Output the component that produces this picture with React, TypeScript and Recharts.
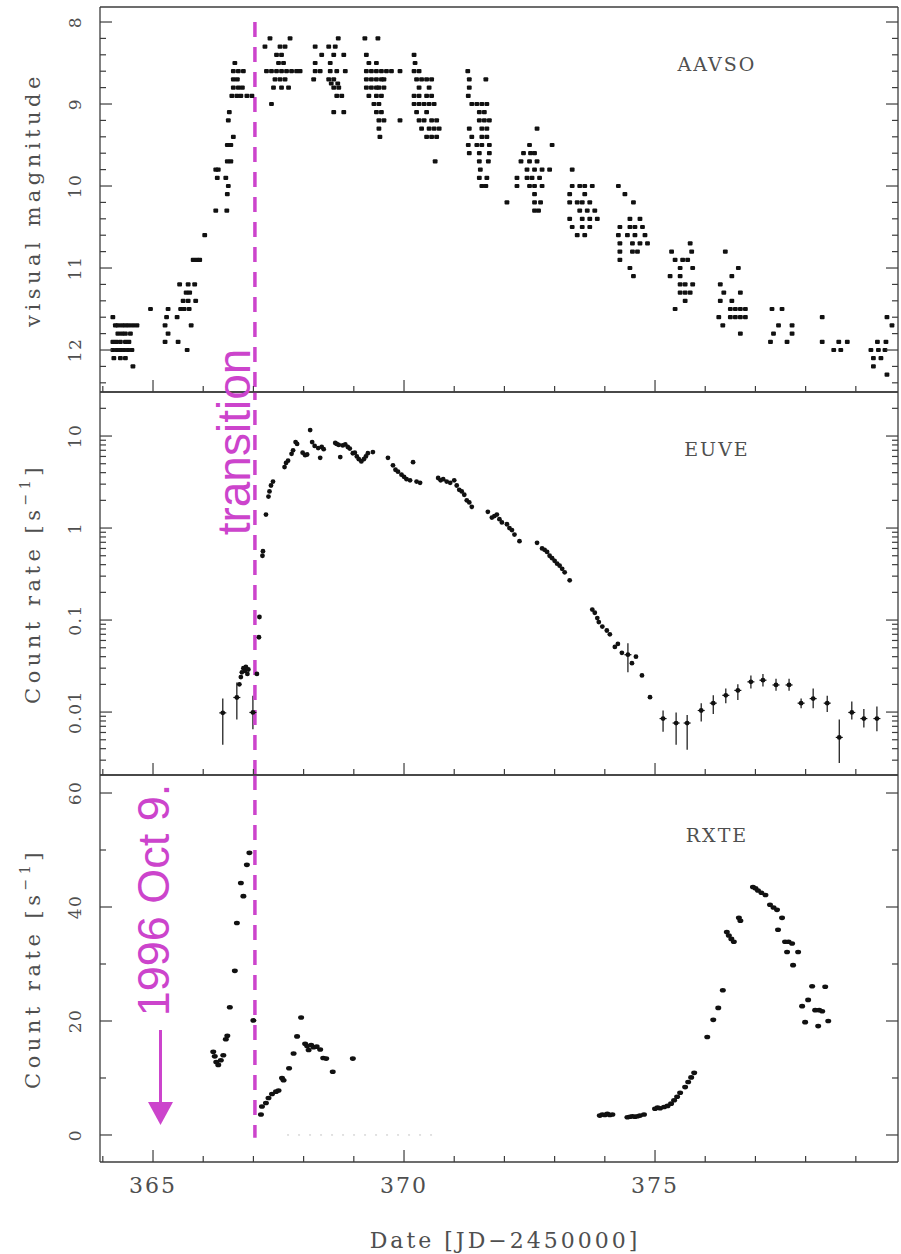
import React from 'react';
import { ScatterChart, Scatter, XAxis, YAxis, ReferenceLine, ErrorBar, Label } from 'recharts';

// AAVSO visual estimates: [JD-2450000, visual magnitude]
const aavso: [number, number][] = [
  [364.2, 11.6], [364.25, 11.7], [364.3, 11.7], [364.38, 11.7], [364.45, 11.7], [364.52, 11.7], [364.6, 11.7], [364.68, 11.7],
  [364.3, 11.8], [364.38, 11.8], [364.45, 11.8], [364.55, 11.8],
  [364.2, 11.9], [364.27, 11.9], [364.35, 11.9], [364.45, 11.9], [364.52, 11.9],
  [364.2, 12.0], [364.28, 12.0], [364.35, 12.0], [364.42, 12.0], [364.5, 12.0], [364.58, 12.0],
  [364.22, 12.1], [364.35, 12.1], [364.45, 12.1], [364.6, 12.2],
  [364.95, 11.5],
  [365.24, 11.7], [365.27, 11.6], [365.3, 11.5], [365.3, 11.8], [365.24, 11.9], [365.48, 11.6], [365.5, 11.9],
  [365.55, 11.5], [365.68, 12.0], [365.76, 11.7], [365.53, 11.2], [365.7, 11.2], [365.83, 11.2], [365.66, 11.3],
  [365.73, 11.3], [365.6, 11.4], [365.7, 11.4], [365.85, 11.4], [365.62, 11.5], [365.72, 11.5],
  [365.8, 10.9], [365.87, 10.9], [365.93, 10.9], [366.03, 10.6],
  [366.25, 10.3], [366.47, 10.3], [366.25, 9.8], [366.3, 9.8], [366.28, 9.9], [366.45, 9.9], [366.5, 10.0],
  [366.48, 10.1], [366.55, 9.7], [366.48, 9.7], [366.48, 9.5], [366.55, 9.5], [366.6, 9.4], [366.5, 9.2], [366.52, 9.1],
  [366.63, 8.5], [366.6, 8.6], [366.7, 8.6], [366.8, 8.6], [366.6, 8.7], [366.68, 8.7], [366.6, 8.8], [366.7, 8.8],
  [366.78, 8.8], [366.57, 8.9], [366.67, 8.9], [366.75, 8.9], [366.87, 8.9], [366.97, 8.9],
  [367.33, 8.2], [367.73, 8.2], [367.23, 8.3], [367.53, 8.3], [367.63, 8.3], [367.46, 8.4], [367.56, 8.4], [367.5, 8.5], [367.6, 8.5],
  [367.26, 8.6], [367.36, 8.6], [367.46, 8.6], [367.56, 8.6], [367.66, 8.6], [367.76, 8.6], [367.86, 8.6], [367.93, 8.6],
  [367.43, 8.7], [367.53, 8.7], [367.63, 8.7], [367.4, 8.8], [367.56, 8.8], [367.7, 8.8], [367.36, 9.0],
  [368.69, 8.2], [368.23, 8.3], [368.5, 8.3], [368.63, 8.3], [368.36, 8.4], [368.6, 8.4], [368.8, 8.4], [368.23, 8.5], [368.53, 8.5],
  [368.23, 8.6], [368.33, 8.6], [368.53, 8.6], [368.66, 8.6], [368.83, 8.6], [368.2, 8.7], [368.5, 8.7], [368.6, 8.7],
  [368.55, 8.75], [368.68, 8.75], [368.6, 8.8], [368.7, 8.8], [368.66, 8.9], [368.76, 8.9], [368.6, 9.1], [368.8, 9.1],
  [369.22, 8.2], [369.48, 8.2], [369.25, 8.4], [369.3, 8.5], [369.45, 8.5],
  [369.25, 8.6], [369.35, 8.6], [369.45, 8.6], [369.55, 8.6], [369.65, 8.6], [369.75, 8.6], [369.92, 8.6],
  [369.25, 8.7], [369.35, 8.7], [369.45, 8.7], [369.55, 8.7], [369.6, 8.7],
  [369.25, 8.8], [369.35, 8.8], [369.45, 8.8], [369.5, 8.8], [369.6, 8.8],
  [369.3, 8.9], [369.45, 8.9], [369.55, 8.9], [369.4, 9.0], [369.5, 9.0], [369.45, 9.1], [369.55, 9.1],
  [369.5, 9.2], [369.6, 9.2], [369.92, 9.2], [369.5, 9.3], [369.52, 9.4],
  [370.2, 8.4], [370.22, 8.5], [370.2, 8.6], [370.3, 8.6], [370.25, 8.7], [370.35, 8.7], [370.45, 8.7], [370.55, 8.7],
  [370.3, 8.8], [370.5, 8.8], [370.2, 8.9], [370.3, 8.9], [370.45, 8.9], [370.55, 8.9],
  [370.2, 9.0], [370.3, 9.0], [370.4, 9.0], [370.5, 9.0], [370.6, 9.0], [370.25, 9.1], [370.45, 9.1],
  [370.3, 9.2], [370.4, 9.2], [370.55, 9.2], [370.65, 9.2], [370.35, 9.3], [370.5, 9.3], [370.6, 9.3], [370.7, 9.3],
  [370.45, 9.4], [370.55, 9.4], [370.65, 9.4], [370.62, 9.7],
  [371.27, 8.6], [371.3, 8.7], [371.63, 8.7], [371.3, 8.8], [371.28, 8.9],
  [371.35, 9.0], [371.45, 9.0], [371.55, 9.0], [371.65, 9.0], [371.5, 9.1], [371.6, 9.1],
  [371.5, 9.2], [371.6, 9.2], [371.7, 9.2], [371.3, 9.3], [371.55, 9.3], [371.65, 9.3],
  [371.35, 9.4], [371.55, 9.4], [371.65, 9.4], [371.28, 9.5], [371.45, 9.5], [371.55, 9.5], [371.7, 9.5],
  [371.3, 9.6], [371.5, 9.6], [371.7, 9.6], [371.5, 9.7], [371.68, 9.7], [371.52, 9.8],
  [371.5, 9.9], [371.65, 9.9], [371.55, 10.0], [371.63, 10.0],
  [372.05, 10.2], [372.65, 9.3], [372.5, 9.5], [372.95, 9.5], [372.38, 9.6], [372.52, 9.6], [372.6, 9.6],
  [372.33, 9.7], [372.5, 9.7], [372.65, 9.7], [372.45, 9.8], [372.6, 9.8], [372.75, 9.8], [372.9, 9.8],
  [372.45, 9.9], [372.55, 9.9], [372.7, 9.9], [372.25, 9.9], [372.25, 10.0], [372.5, 10.0], [372.6, 10.0], [372.75, 10.0],
  [372.6, 10.1], [372.6, 10.2], [372.72, 10.2], [372.6, 10.3], [372.68, 10.3],
  [373.35, 9.8], [373.35, 10.0], [373.5, 10.0], [373.6, 10.0], [373.75, 10.0], [373.3, 10.1], [373.6, 10.1],
  [373.3, 10.2], [373.45, 10.2], [373.55, 10.2], [373.7, 10.2], [373.5, 10.3], [373.65, 10.3], [373.8, 10.3],
  [373.3, 10.4], [373.55, 10.4], [373.7, 10.4], [373.85, 10.4], [373.35, 10.5], [373.55, 10.5], [373.7, 10.5],
  [373.45, 10.6], [373.6, 10.6],
  [374.27, 10.0], [374.4, 10.1], [374.57, 10.2], [374.5, 10.4], [374.7, 10.4],
  [374.3, 10.5], [374.5, 10.5], [374.6, 10.5], [374.75, 10.5], [374.27, 10.6], [374.45, 10.6], [374.6, 10.6], [374.8, 10.6],
  [374.3, 10.7], [374.55, 10.7], [374.7, 10.7], [374.85, 10.7], [374.3, 10.8], [374.55, 10.8], [374.65, 10.8],
  [374.3, 10.9], [374.5, 11.0], [374.57, 11.1],
  [375.7, 10.7], [375.33, 10.8], [375.73, 10.8], [375.4, 10.9], [375.55, 10.9], [375.65, 10.9], [375.5, 11.0], [375.75, 11.0],
  [375.3, 11.1], [375.5, 11.1], [375.5, 11.2], [375.6, 11.2], [375.75, 11.2], [375.5, 11.3], [375.6, 11.3], [375.7, 11.3],
  [375.6, 11.4], [375.4, 11.5],
  [376.4, 10.8], [376.66, 11.0], [376.53, 11.1], [376.3, 11.2], [376.37, 11.3], [376.7, 11.3], [376.3, 11.4], [376.53, 11.4],
  [376.5, 11.5], [376.6, 11.5], [376.7, 11.5], [376.8, 11.5], [376.27, 11.6], [376.5, 11.6], [376.6, 11.6], [376.7, 11.6],
  [376.8, 11.6], [376.35, 11.7], [376.7, 11.8],
  [377.33, 11.5], [377.53, 11.5], [377.46, 11.7], [377.73, 11.7], [377.36, 11.8], [377.73, 11.8], [377.3, 11.9], [377.63, 11.9],
  [378.33, 11.6], [378.33, 11.9], [378.66, 11.9], [378.83, 11.9], [378.56, 12.0], [378.7, 12.0],
  [379.62, 11.6], [379.72, 11.7], [379.6, 11.9], [379.43, 11.9], [379.3, 12.0], [379.45, 12.0], [379.58, 12.0],
  [379.35, 12.1], [379.5, 12.1], [379.35, 12.2], [379.62, 12.3],
];

// EUVE count rate: [JD-2450000, counts/s]
const euve: [number, number][] = [
  [366.72, 0.02], [366.75, 0.024], [366.77, 0.027], [366.8, 0.03], [366.83, 0.028], [366.85, 0.031], [366.88, 0.026], [366.9, 0.029],
  [367.07, 0.026], [367.11, 0.065], [367.12, 0.108], [367.18, 0.5], [367.19, 0.56],
  [367.25, 1.4], [367.3, 2.2], [367.32, 2.5], [367.35, 2.9], [367.39, 3.2],
  [367.62, 4.6], [367.65, 5.1], [367.69, 5.4], [367.76, 6.4], [367.79, 7.0], [367.84, 8.6], [367.87, 8.2],
  [367.98, 6.6], [368.03, 6.2], [368.07, 6.3], [368.13, 11.6], [368.17, 8.6], [368.22, 7.8],
  [368.29, 7.4], [368.33, 5.8], [368.36, 7.6], [368.4, 7.2],
  [368.63, 8.4], [368.66, 8.2], [368.7, 8.0], [368.73, 5.9], [368.78, 7.9], [368.83, 8.1], [368.88, 7.6], [368.92, 7.3],
  [368.98, 6.5], [369.02, 6.6], [369.06, 6.0], [369.1, 5.6], [369.15, 5.3], [369.2, 5.6], [369.24, 6.0], [369.28, 6.5],
  [369.38, 6.7], [369.68, 5.8], [369.78, 4.8], [369.83, 4.3], [369.88, 4.1], [369.95, 3.8], [370.0, 3.6], [370.05, 3.4],
  [370.12, 3.3], [370.18, 5.2], [370.25, 3.2], [370.32, 3.1],
  [370.68, 3.5], [370.73, 3.3], [370.78, 3.4], [370.85, 3.2], [370.92, 3.1],
  [371.0, 3.3], [371.05, 2.9], [371.1, 2.6], [371.15, 2.5], [371.2, 2.3], [371.25, 2.0], [371.3, 1.9], [371.35, 1.7],
  [371.67, 1.5], [371.75, 1.3], [371.8, 1.35], [371.85, 1.4], [371.9, 1.25], [371.95, 1.15],
  [372.05, 1.1], [372.1, 1.0], [372.15, 0.95], [372.2, 0.85], [372.3, 0.72],
  [372.65, 0.69], [372.75, 0.6], [372.8, 0.58], [372.85, 0.55], [372.9, 0.5], [372.95, 0.47], [373.0, 0.44],
  [373.05, 0.41], [373.1, 0.39], [373.15, 0.36], [373.2, 0.33], [373.3, 0.27],
  [373.75, 0.13], [373.8, 0.12], [373.85, 0.105], [373.88, 0.095], [373.95, 0.085], [374.04, 0.077], [374.1, 0.07],
  [374.2, 0.051], [374.26, 0.055], [374.34, 0.044], [374.54, 0.034], [374.62, 0.04], [374.74, 0.025], [374.9, 0.0145],
];

// EUVE points with error bars: [JD-2450000, rate, lower bound, upper bound]
const euveErr: [number, number, number, number][] = [
  [366.39, 0.0098, 0.0044, 0.014], [366.67, 0.0144, 0.0083, 0.021], [366.99, 0.0099, 0.0065, 0.015],
  [374.46, 0.042, 0.027, 0.056], [375.16, 0.0085, 0.0061, 0.0104], [375.42, 0.0076, 0.0044, 0.0099],
  [375.64, 0.0076, 0.0039, 0.0093], [375.92, 0.0104, 0.0079, 0.0125], [376.16, 0.0125, 0.0095, 0.0152],
  [376.41, 0.0152, 0.0125, 0.018], [376.65, 0.0172, 0.0135, 0.02], [376.91, 0.0213, 0.018, 0.025],
  [377.15, 0.0222, 0.019, 0.026], [377.41, 0.0197, 0.017, 0.023], [377.67, 0.0197, 0.017, 0.023],
  [377.91, 0.0125, 0.011, 0.014], [378.15, 0.014, 0.011, 0.018], [378.43, 0.0125, 0.01, 0.015],
  [378.67, 0.0053, 0.0028, 0.0083], [378.92, 0.0099, 0.0083, 0.013], [379.16, 0.0085, 0.0068, 0.0108],
  [379.42, 0.0085, 0.0062, 0.0115],
];

// RXTE count rate: [JD-2450000, counts/s]
const rxte: [number, number][] = [
  [366.2, 14.6], [366.23, 13.8], [366.26, 12.8], [366.3, 12.3], [366.35, 13.1], [366.4, 14.0], [366.45, 16.8], [366.48, 17.4],
  [366.53, 22.4], [366.63, 28.8], [366.67, 37.2], [366.75, 44.2], [366.8, 41.9], [366.87, 47.4], [366.92, 49.5], [367.0, 20.1],
  [367.15, 3.6], [367.17, 5.0], [367.25, 5.6], [367.3, 6.5], [367.37, 7.2], [367.45, 7.6], [367.5, 7.8],
  [367.57, 10.0], [367.6, 9.6], [367.71, 11.7], [367.8, 14.3], [367.87, 17.3], [367.95, 20.6],
  [368.03, 16.0], [368.07, 15.6], [368.1, 14.9], [368.15, 15.8], [368.2, 15.4], [368.26, 15.5], [368.33, 15.0],
  [368.39, 13.5], [368.45, 13.4], [368.58, 11.1], [368.98, 13.4],
  [373.9, 3.4], [373.95, 3.6], [374.0, 3.5], [374.05, 3.7], [374.1, 3.5], [374.15, 3.6],
  [374.45, 3.1], [374.5, 3.2], [374.55, 3.3], [374.6, 3.2], [374.65, 3.3], [374.7, 3.4], [374.78, 3.6],
  [375.0, 4.6], [375.05, 4.8], [375.1, 4.7], [375.18, 4.9], [375.25, 5.1], [375.32, 5.5], [375.38, 6.1], [375.44, 6.7],
  [375.5, 7.4], [375.6, 8.4], [375.66, 9.3], [375.72, 10.1], [375.78, 10.9],
  [376.04, 17.2], [376.16, 20.2], [376.26, 22.3], [376.35, 25.4],
  [376.43, 35.6], [376.47, 35.0], [376.52, 34.4], [376.57, 33.9], [376.67, 38.1], [376.7, 37.6],
  [376.95, 43.5], [377.0, 43.3], [377.05, 42.9], [377.12, 42.5], [377.2, 42.1],
  [377.29, 40.4], [377.36, 39.9], [377.43, 39.5], [377.53, 38.1], [377.45, 36.0],
  [377.59, 33.9], [377.66, 33.9], [377.73, 33.6], [377.63, 32.1], [377.85, 32.1], [377.75, 29.8],
  [378.13, 26.1], [378.39, 26.0], [378.05, 23.7], [377.93, 22.6], [378.19, 21.9], [378.27, 21.9], [378.33, 21.7],
  [377.99, 19.8], [378.25, 19.1], [378.45, 20.0],
];

const dayTicks = [364, 365, 366, 367, 368, 369, 370, 371, 372, 373, 374, 375, 376, 377, 378, 379];
const dayMajor = [365, 370, 375];
const magTicks = [8, 8.2, 8.4, 8.6, 8.8, 9, 9.2, 9.4, 9.6, 9.8, 10, 10.2, 10.4, 10.6, 10.8, 11, 11.2, 11.4, 11.6, 11.8, 12, 12.2, 12.4];
const magMajor = [8, 9, 10, 11, 12];
const euveTicks = [
  0.003, 0.004, 0.005, 0.006, 0.007, 0.008, 0.009, 0.01, 0.02, 0.03, 0.04, 0.05, 0.06, 0.07, 0.08, 0.09,
  0.1, 0.2, 0.3, 0.4, 0.5, 0.6, 0.7, 0.8, 0.9, 1, 2, 3, 4, 5, 6, 7, 8, 9, 10, 20,
];
const euveMajor = [0.01, 0.1, 1, 10];
const rxteTicks = [0, 10, 20, 30, 40, 50, 60];
const rxteMajor = [0, 20, 40, 60];

const transitionDay = 367.03;

const dateDomain: [number, number] = [363.944, 379.84];
const magDomain: [number, number] = [7.817, 12.512];
const euveDomain: [number, number] = [0.00207, 30.1];
const rxteDomain: [number, number] = [-4.74, 63.16];

const magenta = '#cc44cc';
const ink = '#111';
const frame = '#3c3c3c';
const textGray = '#4f4f4f';
const serif = "'DejaVu Serif', 'Liberation Serif', serif";
const sans = "'Liberation Sans', Arial, sans-serif";

const aavsoData = aavso.map(([x, y]) => ({ x, y }));
const euveData = euve.map(([x, y]) => ({ x, y }));
const euveErrData = euveErr.map(([x, y, lo, hi]) => ({ x, y, err: [y - lo, hi - y] }));
const rxteData = rxte.map(([x, y]) => ({ x, y }));

type Side = 'left' | 'right' | 'top' | 'bottom';

const makeTick = (side: Side, majors: number[], margin: number, showLabel: boolean, fontSize: number, spacing = 1.5) =>
  (p: any) => {
    const v = Number(p.payload.value);
    const major = majors.some((m) => Math.abs(m - v) < 1e-9);
    const len = major ? 12 : 6;
    let line: React.ReactNode = null;
    if (side === 'left') {
      const ax = p.x + margin;
      line = <line x1={ax} x2={ax + len} y1={p.y} y2={p.y} stroke={frame} strokeWidth={1.2} />;
    } else if (side === 'right') {
      const ax = p.x - margin;
      line = <line x1={ax} x2={ax - len} y1={p.y} y2={p.y} stroke={frame} strokeWidth={1.2} />;
    } else if (side === 'bottom') {
      const ay = p.y - margin;
      line = <line x1={p.x} x2={p.x} y1={ay} y2={ay - len} stroke={frame} strokeWidth={1.2} />;
    } else {
      const ay = p.y + margin;
      line = <line x1={p.x} x2={p.x} y1={ay} y2={ay + len} stroke={frame} strokeWidth={1.2} />;
    }
    let label: React.ReactNode = null;
    if (showLabel && major) {
      const rot = side === 'left' ? `rotate(-90 ${p.x} ${p.y})` : undefined;
      label = (
        <text x={p.x} y={p.y} transform={rot} textAnchor="middle" dominantBaseline="central"
          fontFamily={serif} fontSize={fontSize} letterSpacing={spacing} fill={textGray}>
          {String(v)}
        </text>
      );
    }
    return <g>{line}{label}</g>;
  };

const yTitle = (main: string, sup: string | null, spacing: number) => (props: any) => {
  const vb = props.viewBox ?? { x: 0, y: 0, width: 100, height: 385 };
  const cx = (vb.x ?? 0) + 33;
  const cy = (vb.y ?? 0) + (vb.height ?? 0) / 2;
  return (
    <text x={cx} y={cy} transform={`rotate(-90 ${cx} ${cy})`} textAnchor="middle" dominantBaseline="central"
      fontFamily={serif} fontSize={21} letterSpacing={spacing} fill={textGray}>
      {main}
      {sup && <tspan dy={-8} fontSize={14}>{sup}</tspan>}
      {sup && <tspan dy={8}>]</tspan>}
    </text>
  );
};

const xTitle = (props: any) => {
  const vb = props.viewBox ?? { x: 100, y: 392, width: 798, height: 92 };
  const cx = vb.x + vb.width / 2 + 6;
  const cy = vb.y + 78;
  return (
    <text x={cx} y={cy} textAnchor="middle" dominantBaseline="central" fontFamily={serif} fontSize={22}
      letterSpacing={3} fill={textGray}>
      Date [JD−2450000]
    </text>
  );
};

const axisLine = { stroke: frame, strokeWidth: 1.3 };

interface FrameOpts {
  domain: [number, number];
  ticks: number[];
  majors: number[];
  reversed?: boolean;
  log?: boolean;
  bottomLabels?: boolean;
  title: (p: any) => React.ReactNode;
}

// bottom/top date axes are 1px tall so that Recharts still draws them
const frameAxes = ({ domain, ticks, majors, reversed = false, log = false, bottomLabels = false, title }: FrameOpts) => [
  <XAxis key="xb" xAxisId={0} dataKey="x" type="number" domain={dateDomain} allowDataOverflow ticks={dayTicks}
    interval={0} tickSize={0} tickLine={false} tickMargin={bottomLabels ? 23 : 0} height={bottomLabels ? 92 : 1}
    axisLine={axisLine} tick={makeTick('bottom', dayMajor, bottomLabels ? 23 : 0, bottomLabels, 22, 2)}
    label={bottomLabels ? <Label content={xTitle} /> : undefined} />,
  <XAxis key="xt" xAxisId="top" orientation="top" type="number" domain={dateDomain} allowDataOverflow ticks={dayTicks}
    interval={0} tickSize={0} tickLine={false} tickMargin={0} height={1} axisLine={axisLine}
    tick={makeTick('top', dayMajor, 0, false, 0)} />,
  <YAxis key="yl" yAxisId={0} dataKey="y" type="number" scale={log ? 'log' : 'linear'} domain={domain}
    allowDataOverflow reversed={reversed} ticks={ticks} interval={0} tickSize={0} tickLine={false} tickMargin={25}
    width={100} axisLine={axisLine} tick={makeTick('left', majors, 25, true, 17)} label={<Label content={title} />} />,
  <YAxis key="yr" yAxisId="right" orientation="right" type="number" scale={log ? 'log' : 'linear'} domain={domain}
    allowDataOverflow reversed={reversed} ticks={ticks} interval={0} tickSize={0} tickLine={false} tickMargin={0}
    width={3} axisLine={axisLine} tick={makeTick('right', majors, 0, false, 0)} />,
];

const squareDot = (p: any) => <rect x={p.cx - 2.4} y={p.cy - 2.1} width={4.8} height={4.2} rx={1} fill={ink} />;
const roundDot = (p: any) => <circle cx={p.cx} cy={p.cy} r={2.4} fill={ink} />;
const crossDot = (p: any) => (
  <g>
    <line x1={p.cx - 3.5} x2={p.cx + 3.5} y1={p.cy} y2={p.cy} stroke={ink} strokeWidth={1.2} />
    <circle cx={p.cx} cy={p.cy} r={2.4} fill={ink} />
  </g>
);
const ovalDot = (p: any) => <ellipse cx={p.cx} cy={p.cy} rx={3} ry={2.3} fill={ink} />;

const dashProps = { stroke: magenta, strokeWidth: 3.5, strokeDasharray: '15 10' };

export default function App() {
  return (
    <div style={{ position: 'absolute', left: 0, top: 0, width: 901, height: 1254, background: '#fff', overflow: 'hidden' }}>
      <div style={{ position: 'absolute', left: 0, top: 0 }}>
        <ScatterChart width={901} height={400} margin={{ top: 6, right: 0, bottom: 7, left: 0 }}>
          {frameAxes({ domain: magDomain, ticks: magTicks, majors: magMajor, reversed: true, title: yTitle('visual magnitude', null, 4.5) })}
          <Scatter data={aavsoData} shape={squareDot} isAnimationActive={false} />
          <ReferenceLine segment={[{ x: transitionDay, y: 8 }, { x: transitionDay, y: magDomain[1] }]} {...dashProps} />
        </ScatterChart>
      </div>
      <div style={{ position: 'absolute', left: 0, top: 382 }}>
        <ScatterChart width={901} height={403} margin={{ top: 9, right: 0, bottom: 9, left: 0 }}>
          {frameAxes({ domain: euveDomain, ticks: euveTicks, majors: euveMajor, log: true, title: yTitle('Count rate [s', '−1', 4.5) })}
          <Scatter data={euveData} shape={roundDot} isAnimationActive={false} />
          <Scatter data={euveErrData} shape={crossDot} isAnimationActive={false}>
            <ErrorBar dataKey="err" direction="y" width={0} stroke={ink} strokeWidth={1.2} />
          </Scatter>
          <ReferenceLine x={transitionDay} {...dashProps} />
        </ScatterChart>
      </div>
      <div style={{ position: 'absolute', left: 0, top: 765 }}>
        <ScatterChart width={901} height={489} margin={{ top: 9, right: 0, bottom: 0, left: 0 }}>
          {frameAxes({ domain: rxteDomain, ticks: rxteTicks, majors: rxteMajor, bottomLabels: true, title: yTitle('Count rate [s', '−1', 4.5) })}
          <ReferenceLine segment={[{ x: 367.67, y: 0 }, { x: 370.6, y: 0 }]} stroke="#c4c4c4" strokeDasharray="2 9" />
          <Scatter data={rxteData} shape={ovalDot} isAnimationActive={false} />
          <ReferenceLine segment={[{ x: transitionDay, y: rxteDomain[1] }, { x: transitionDay, y: -0.5 }]} {...dashProps} />
        </ScatterChart>
      </div>
      <svg width={901} height={1254} style={{ position: 'absolute', left: 0, top: 0, pointerEvents: 'none' }}>
        <text x={717} y={64} textAnchor="middle" dominantBaseline="central" fontFamily={serif} fontSize={19} letterSpacing={2} fill={textGray}>AAVSO</text>
        <text x={717} y={449} textAnchor="middle" dominantBaseline="central" fontFamily={serif} fontSize={19} letterSpacing={2} fill={textGray}>EUVE</text>
        <text x={717} y={835} textAnchor="middle" dominantBaseline="central" fontFamily={serif} fontSize={19} letterSpacing={2} fill={textGray}>RXTE</text>
        <text x={250} y={442} transform="rotate(-90 250 442)" textAnchor="middle" fontFamily={sans} fontSize={46} fill={magenta}>transition</text>
        <text x={169} y={900} transform="rotate(-90 169 900)" textAnchor="middle" fontFamily={sans} fontSize={45} fill={magenta}>1996 Oct 9.</text>
        <line x1={160.5} y1={1030} x2={160.5} y2={1104} stroke={magenta} strokeWidth={3} />
        <polygon points="148,1102 173,1102 160.5,1125" fill={magenta} />
      </svg>
    </div>
  );
}
